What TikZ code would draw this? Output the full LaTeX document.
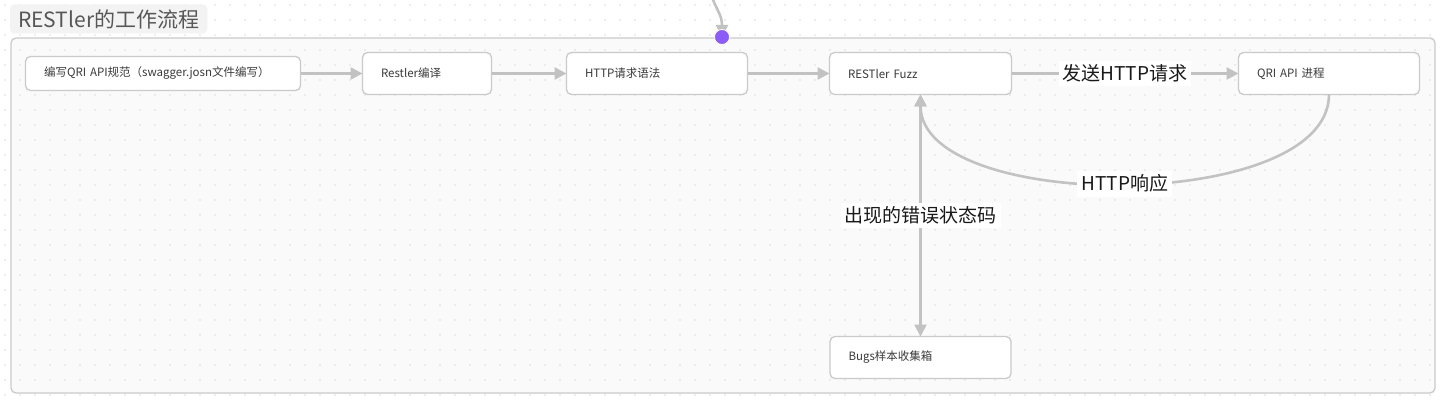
\documentclass[tikz,border=0pt]{standalone}
\usepackage{fontspec}
\setmainfont{Noto Sans CJK SC}
\usepackage{tikz}
\usetikzlibrary{arrows.meta,positioning}
\definecolor{linegray}{HTML}{C2C2C2}
\definecolor{boxgray}{HTML}{CACACA}
\definecolor{dotgray}{HTML}{DDDDDD}
\definecolor{panelgray}{HTML}{FAFAFA}
\definecolor{titlegray}{HTML}{F3F3F3}
\definecolor{hookviolet}{HTML}{8B5CF6}
\definecolor{inkgray}{HTML}{3A3A3A}
\tikzstyle{flow} = [line width=2.6pt, draw=linegray, ->, >={Triangle[length=12pt,width=12pt]}]
\tikzstyle{stepbox} = [draw=boxgray, line width=1.3pt, fill=white, rounded corners=5pt, minimum height=42pt, inner xsep=18.5pt, outer sep=0pt, align=left, text=inkgray, font=\fontsize{11.5}{13}\selectfont, anchor=west]
\tikzstyle{tag} = [fill=white, inner sep=4pt, text=black!90, font=\fontsize{19}{22}\selectfont]

\begin{document}
\begin{tikzpicture}[x=1pt,y=-1pt]
\useasboundingbox (0,0) rectangle (1440,401);
\fill[white] (0,0) rectangle (1440,401);
\fill[panelgray, rounded corners=5pt] (11,38) rectangle (1435,393);
% dot grid
\foreach \i in {0,...,95}
  \foreach \j in {0,...,26}
    \fill[dotgray] (5+15*\i,5+15*\j) circle (0.8pt);
\draw[boxgray, line width=1.3pt, rounded corners=5pt] (11,38) rectangle (1435,393);

\node[anchor=west, fill=titlegray, rounded corners=4pt, inner xsep=8pt, minimum height=29pt, text=inkgray!85, font=\fontsize{21}{25}\selectfont] (title) at (10,19) {RESTler的工作流程};

\node[stepbox, text width=238pt, minimum height=34pt] (spec) at (25.5,73.5) {编写QRI API规范（swagger.josn文件编写）};
\node[stepbox, text width=92pt, right=62pt of spec] (compile) {Restler编译};
\node[stepbox, text width=144pt, right=75pt of compile] (grammar) {HTTP请求语法};
\node[stepbox, text width=145pt, right=82pt of grammar] (fuzz) {RESTler Fuzz};
\node[stepbox, text width=144pt, right=227pt of fuzz] (qri) {QRI API 进程};
\node[stepbox, text width=144pt, below=242pt of fuzz] (bugs) {Bugs样本收集箱};

\draw[flow] (spec) -- (compile);
\draw[flow] (compile) -- (grammar);
\draw[flow] (grammar) -- (fuzz);
\draw[flow] (fuzz) -- node[tag] (sendtag) {发送HTTP请求} (qri);
\draw[flow] (qri.south) .. controls +(0,119) and +(0,119) .. node[tag] (resptag) {HTTP响应} (fuzz.south);
\draw[flow, <->] (fuzz) -- node[tag] (errtag) {出现的错误状态码} (bugs);

% incoming hook at the top
\coordinate (feed) at (711,-6);
\coordinate (hookc) at (722,37);
\draw[flow] (feed) .. controls (716,10) and (722,14) .. (hookc);
\node[circle, fill=hookviolet, draw=white, line width=0.8pt, minimum size=15pt, inner sep=0pt] (hook) at (hookc) {};
\end{tikzpicture}
\end{document}
